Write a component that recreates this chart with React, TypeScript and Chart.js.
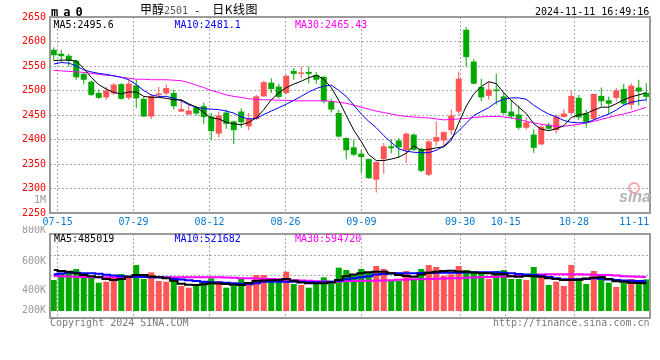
import React, { useEffect, useRef } from 'react';
import { Chart, registerables } from 'chart.js';

Chart.register(...registerables);

// ---------------- data ----------------
const dates = [
  '07-12', '07-15', '07-16', '07-17', '07-18', '07-19', '07-22', '07-23', '07-24', '07-25', '07-26', '07-29', '07-30', '07-31',
  '08-01', '08-02', '08-05', '08-06', '08-07', '08-08', '08-09', '08-12', '08-13', '08-14', '08-15', '08-16', '08-19', '08-20',
  '08-21', '08-22', '08-23', '08-26', '08-27', '08-28', '08-29', '08-30',
  '09-02', '09-03', '09-04', '09-05', '09-06', '09-09', '09-10', '09-11', '09-12', '09-13', '09-18', '09-19', '09-20', '09-23',
  '09-24', '09-25', '09-26', '09-27', '09-30',
  '10-08', '10-09', '10-10', '10-11', '10-14', '10-15', '10-16', '10-17', '10-18', '10-21', '10-22', '10-23', '10-24', '10-25',
  '10-28', '10-29', '10-30', '10-31',
  '11-01', '11-04', '11-05', '11-06', '11-07', '11-08', '11-11',
];

const opens = [
  2583, 2575, 2571, 2561, 2534, 2518, 2495, 2486, 2494, 2513,
  2485, 2510, 2483, 2447, 2491, 2494, 2495, 2457, 2451, 2466,
  2468, 2447, 2412, 2455, 2437, 2457, 2427, 2442, 2488, 2516,
  2508, 2495, 2540, 2534, 2538, 2532, 2528, 2478, 2454, 2403,
  2384, 2371, 2360, 2318, 2360, 2386, 2398, 2378, 2410, 2381,
  2328, 2396, 2398, 2419, 2457, 2624, 2559, 2507, 2489, 2502,
  2488, 2457, 2451, 2424, 2410, 2390, 2430, 2419, 2446, 2454,
  2485, 2453, 2442, 2489, 2480, 2485, 2503, 2471, 2506, 2495,
];
const highs = [
  2588, 2583, 2575, 2563, 2537, 2520, 2502, 2507, 2515, 2515,
  2522, 2522, 2488, 2493, 2507, 2512, 2502, 2481, 2471, 2469,
  2475, 2454, 2457, 2461, 2439, 2464, 2454, 2491, 2520, 2525,
  2514, 2532, 2546, 2549, 2549, 2538, 2529, 2483, 2461, 2404,
  2400, 2379, 2361, 2355, 2393, 2400, 2403, 2414, 2412, 2383,
  2400, 2437, 2417, 2461, 2539, 2629, 2564, 2524, 2518, 2534,
  2496, 2481, 2469, 2445, 2421, 2430, 2434, 2451, 2461, 2500,
  2491, 2461, 2494, 2506, 2488, 2505, 2514, 2515, 2522, 2515,
];
const lows = [
  2561, 2557, 2549, 2522, 2513, 2489, 2483, 2481, 2491, 2481,
  2481, 2464, 2446, 2442, 2488, 2491, 2461, 2456, 2450, 2449,
  2432, 2398, 2404, 2422, 2391, 2424, 2419, 2440, 2487, 2495,
  2483, 2493, 2522, 2525, 2515, 2514, 2474, 2455, 2404, 2359,
  2366, 2332, 2320, 2292, 2330, 2372, 2362, 2352, 2377, 2333,
  2325, 2387, 2385, 2410, 2451, 2549, 2512, 2478, 2481, 2471,
  2451, 2442, 2420, 2420, 2373, 2389, 2420, 2412, 2445, 2451,
  2440, 2424, 2440, 2468, 2451, 2478, 2469, 2461, 2469, 2478,
];
const closes = [
  2572, 2570, 2561, 2527, 2522, 2491, 2485, 2500, 2512, 2483,
  2514, 2484, 2447, 2489, 2494, 2505, 2468, 2462, 2459, 2453,
  2446, 2417, 2449, 2432, 2419, 2435, 2442, 2488, 2517, 2503,
  2487, 2530, 2534, 2537, 2534, 2522, 2478, 2461, 2406, 2378,
  2369, 2364, 2321, 2354, 2386, 2382, 2384, 2412, 2379, 2336,
  2396, 2405, 2415, 2449, 2524, 2568, 2514, 2486, 2502, 2499,
  2454, 2447, 2424, 2435, 2383, 2426, 2422, 2447, 2453, 2489,
  2445, 2435, 2493, 2478, 2473, 2500, 2473, 2510, 2498, 2487,
];

const volumes = [
  542000, 670000, 688000, 735000, 589000, 589000, 496000, 513000, 589000, 648000,
  613000, 805000, 560000, 677000, 525000, 513000, 554000, 438000, 408000, 473000,
  525000, 572000, 525000, 408000, 438000, 572000, 455000, 630000, 630000, 531000,
  525000, 688000, 473000, 455000, 408000, 484000, 589000, 485000, 758000, 718000,
  648000, 735000, 677000, 788000, 735000, 531000, 531000, 700000, 554000, 735000,
  805000, 770000, 618000, 642000, 788000, 718000, 677000, 659000, 560000, 700000,
  718000, 560000, 560000, 542000, 770000, 613000, 455000, 513000, 438000, 805000,
  572000, 473000, 700000, 613000, 496000, 420000, 496000, 560000, 473000, 554000,
];

const ma5 = [
  2561, 2562, 2562, 2560, 2545, 2527, 2512, 2503, 2496, 2493,
  2497, 2497, 2488, 2486, 2486, 2484, 2481, 2481, 2473, 2466,
  2455, 2444, 2442, 2435, 2432, 2430, 2435, 2444, 2461, 2481,
  2495, 2506, 2513, 2519, 2526, 2531, 2523, 2506, 2480, 2449,
  2419, 2396, 2369, 2357, 2357, 2360, 2364, 2372, 2387, 2378,
  2380, 2383, 2385, 2398, 2434, 2468, 2493, 2508, 2518, 2514,
  2495, 2480, 2466, 2453, 2432, 2421, 2418, 2422, 2428, 2445,
  2450, 2453, 2460, 2466, 2466, 2473, 2481, 2487, 2491, 2495.6,
];
const ma10 = [
  2554, 2557, 2556, 2550, 2542, 2538, 2535, 2533, 2530, 2527,
  2522, 2512, 2500, 2491, 2488, 2488, 2484, 2479, 2471, 2466,
  2463, 2462, 2461, 2458, 2454, 2446, 2442, 2443, 2451, 2458,
  2465, 2472, 2480, 2488, 2497, 2504, 2509, 2511, 2500, 2488,
  2470, 2452, 2437, 2424, 2408, 2394, 2381, 2376, 2374, 2373,
  2373, 2378, 2386, 2403, 2418, 2433, 2449, 2457, 2465, 2476,
  2482, 2485, 2485, 2482, 2470, 2460, 2452, 2446, 2439, 2435,
  2434, 2434, 2440, 2446, 2452, 2460, 2470, 2476, 2479, 2481.1,
];
const ma30 = [
  2541, 2540, 2539, 2538, 2537, 2535, 2533, 2531, 2530, 2527,
  2525, 2523, 2523, 2522, 2522, 2522, 2521, 2520, 2516, 2511,
  2506, 2500, 2496, 2491, 2488, 2486, 2483, 2482, 2481, 2481,
  2480, 2480, 2479, 2479, 2479, 2479, 2479, 2478, 2476, 2474,
  2470, 2466, 2462, 2458, 2455, 2452, 2449, 2447, 2446, 2445,
  2444, 2442, 2440, 2441, 2442, 2443, 2445, 2446, 2447, 2447,
  2446, 2444, 2441, 2437, 2434, 2431, 2429, 2427, 2427, 2429,
  2431, 2434, 2437, 2441, 2445, 2449, 2452, 2456, 2461, 2465.43,
];

const volMa5 = [
  717000, 700000, 688000, 660000, 630000, 610000, 589000, 560000, 542000, 560000,
  600000, 630000, 630000, 605000, 590000, 572000, 530000, 475000, 460000, 455000,
  470000, 485000, 480000, 473000, 460000, 455000, 490000, 525000, 535000, 540000,
  542000, 560000, 530000, 500000, 485000, 485000, 485000, 500000, 542000, 610000,
  640000, 659000, 680000, 688000, 688000, 660000, 630000, 613000, 600000, 640000,
  670000, 688000, 700000, 705000, 690000, 688000, 675000, 665000, 659000, 645000,
  642000, 610000, 600000, 613000, 610000, 600000, 575000, 560000, 542000, 542000,
  545000, 570000, 580000, 589000, 560000, 520000, 510000, 496000, 490000, 485019,
];
const volMa10 = [
  642000, 655000, 670000, 668000, 662000, 659000, 650000, 635000, 620000, 610000,
  600000, 600000, 596000, 592000, 589000, 580000, 560000, 550000, 540000, 525000,
  513000, 505000, 498000, 494000, 485000, 478000, 467000, 485000, 513000, 513000,
  513000, 513000, 513000, 510000, 505000, 502000, 505000, 513000, 530000, 554000,
  572000, 589000, 610000, 640000, 648000, 655000, 659000, 659000, 659000, 665000,
  670000, 670000, 670000, 670000, 670000, 672000, 677000, 677000, 677000, 677000,
  670000, 660000, 648000, 640000, 630000, 615000, 595000, 575000, 554000, 554000,
  554000, 560000, 572000, 565000, 550000, 542000, 535000, 531000, 527000, 521682,
];
const volMa30 = [
  613000, 610000, 605000, 600000, 595000, 590000, 589000, 589000, 590000, 595000,
  600000, 600000, 598000, 595000, 592000, 589000, 589000, 589000, 589000, 589000,
  589000, 589000, 589000, 586000, 580000, 575000, 572000, 570000, 565000, 560000,
  555000, 545000, 540000, 535000, 528000, 522000, 515000, 513000, 518000, 525000,
  526000, 528000, 530000, 531000, 533000, 538000, 545000, 550000, 554000, 557000,
  560000, 565000, 570000, 572000, 575000, 580000, 585000, 590000, 595000, 600000,
  605000, 610000, 613000, 620000, 630000, 638000, 642000, 642000, 642000, 642000,
  642000, 640000, 635000, 630000, 628000, 620000, 610000, 603000, 598000, 594720,
];

const priceTicks = [2250, 2300, 2350, 2400, 2450, 2500, 2550, 2600, 2650];
const dateTicks = ['07-15', '07-29', '08-12', '08-26', '09-09', '09-30', '10-15', '10-28', '11-11'];
const volTickLabels = ['1M', '800K', '600K', '400K', '200K'];
const titleName = '甲醇';
const titleCode = '2501';
const titleKind = '日K线图';
const timestamp = '2024-11-11 16:49:16';

// ---------------- styling ----------------
const RED = '#ff5555';
const GREEN = '#00a800';
const GRID = '#aaaaaa';
const BOX = '#9a9a9a';
const RED_TXT = '#ff0000';
const GREY_TXT = '#9a9a9a';
const BLUE_TXT = '#0a78d2';
const MONO = "'DejaVu Sans Mono', 'Liberation Mono', monospace";

const X_MIN = -0.5;
const X_MAX = dates.length - 0.5;

const candleColor = (i: number) => (closes[i] >= opens[i] ? RED : GREEN);

// Sina spaces its date grid over (n-1) steps while candles use n slots.
const dateItems = dateTicks.map((d, k) => {
  const n = dates.length;
  const idx = dates.indexOf(d);
  const last = k === dateTicks.length - 1;
  return { value: last ? X_MAX - 2.1 : (idx * n) / (n - 1) - 0.5, label: d, grid: !last };
});

const boxPlugin = {
  id: 'box',
  afterDraw(chart: any) {
    const { ctx, chartArea: a } = chart;
    ctx.save();
    ctx.strokeStyle = BOX;
    ctx.lineWidth = 2;
    ctx.strokeRect(a.left, a.top, a.right - a.left, a.bottom - a.top);
    ctx.restore();
  },
};

function xAxis(showLabels: boolean, height: number) {
  return {
    type: 'linear',
    min: X_MIN,
    max: X_MAX,
    offset: false,
    afterBuildTicks: (s: any) => {
      s.ticks = dateItems.map((t) => ({ value: t.value }));
    },
    afterFit: (s: any) => {
      s.height = height;
      s.paddingLeft = 0;
      s.paddingRight = 0;
    },
    ticks: {
      display: showLabels,
      autoSkip: false,
      maxRotation: 0,
      minRotation: 0,
      padding: 3,
      color: BLUE_TXT,
      font: { family: MONO, size: 10 },
      callback: (_v: any, i: number) => dateItems[i].label,
    },
    grid: {
      offset: false,
      color: (c: any) => (dateItems[c.index] && dateItems[c.index].grid ? GRID : 'rgba(0,0,0,0)'),
      drawTicks: false,
      lineWidth: 1,
    },
    border: { display: false, dash: [2, 2] },
  };
}

// price panel: chart area y 17..213, volume "1M" label spills into it near 2275
const ONE_M_AT_PRICE = 2275;
const priceAxisItems = [
  ...priceTicks.map((v, k) => ({ value: v, label: String(v), color: RED_TXT, grid: k > 0 && k < priceTicks.length - 1 })),
  { value: ONE_M_AT_PRICE, label: volTickLabels[0], color: GREY_TXT, grid: false },
];

// volume panel (canvas top = 226): chart area y 8..92, zero volume at y 85
const VOL_PER_PX = 17500;
const VOL_ZERO_Y = 85;
const VOL_MAX = (VOL_ZERO_Y - 8) * VOL_PER_PX;
const VOL_MIN = -(92 - VOL_ZERO_Y) * VOL_PER_PX;
const volAt = (y: number) => (VOL_ZERO_Y - y) * VOL_PER_PX;
const volAxisItems = [
  { value: VOL_MAX, label: [volTickLabels[1], ''], grid: false },
  { value: volAt(29.7), label: '', grid: true },
  { value: volAt(35), label: volTickLabels[2], grid: false },
  { value: volAt(49.7), label: '', grid: true },
  { value: volAt(64), label: volTickLabels[3], grid: false },
  { value: volAt(69.7), label: '', grid: true },
  { value: volAt(84), label: volTickLabels[4], grid: false },
];

function priceConfig(): any {
  const pts = (arr: number[]) => arr.map((v, i) => ({ x: i, y: v }));
  return {
    type: 'bar',
    data: {
      datasets: [
        { type: 'line', data: pts(ma5), borderColor: '#000000', borderWidth: 1, pointRadius: 0, order: 0 },
        { type: 'line', data: pts(ma10), borderColor: '#0000ff', borderWidth: 1, pointRadius: 0, order: 0 },
        { type: 'line', data: pts(ma30), borderColor: '#ff00ff', borderWidth: 1, pointRadius: 0, order: 0 },
        {
          type: 'bar',
          data: highs.map((h, i) => ({ x: i, y: [lows[i], h] })),
          backgroundColor: (c: any) => candleColor(c.dataIndex),
          barThickness: 1,
          grouped: false,
          inflateAmount: 0,
          order: 2,
        },
        {
          type: 'bar',
          data: opens.map((o, i) => ({ x: i, y: [o, closes[i]] })),
          backgroundColor: (c: any) => candleColor(c.dataIndex),
          barThickness: 6,
          grouped: false,
          inflateAmount: 0,
          order: 1,
        },
      ],
    },
    options: {
      responsive: false,
      maintainAspectRatio: false,
      animation: false,
      devicePixelRatio: 1,
      events: [],
      layout: { padding: { left: 0, right: 10, top: 17, bottom: 0 } },
      plugins: { legend: { display: false }, tooltip: { enabled: false } },
      scales: {
        x: xAxis(true, 23),
        y: {
          type: 'linear',
          min: priceTicks[0],
          max: priceTicks[priceTicks.length - 1],
          afterBuildTicks: (s: any) => {
            s.ticks = priceAxisItems.map((t) => ({ value: t.value }));
          },
          afterFit: (s: any) => {
            s.width = 50;
            s.paddingTop = 0;
            s.paddingBottom = 0;
          },
          ticks: {
            autoSkip: false,
            padding: 4,
            font: { family: MONO, size: 10 },
            color: (c: any) => (priceAxisItems[c.index] ? priceAxisItems[c.index].color : RED_TXT),
            callback: (_v: any, i: number) => priceAxisItems[i].label,
          },
          grid: {
            color: (c: any) => (priceAxisItems[c.index] && priceAxisItems[c.index].grid ? GRID : 'rgba(0,0,0,0)'),
            drawTicks: false,
          },
          border: { display: false, dash: [2, 2] },
        },
      },
    },
    plugins: [boxPlugin],
  };
}

function volumeConfig(): any {
  const pts = (arr: number[]) => arr.map((v, i) => ({ x: i, y: v }));
  const line = (arr: number[], color: string) => ({
    type: 'line',
    data: pts(arr),
    borderColor: color,
    borderWidth: 2,
    pointRadius: 0,
    stepped: 'middle',
    order: 0,
  });
  return {
    type: 'bar',
    data: {
      datasets: [
        line(volMa5, '#000000'),
        line(volMa10, '#0000ff'),
        line(volMa30, '#ff00ff'),
        {
          type: 'bar',
          data: pts(volumes),
          backgroundColor: (c: any) => candleColor(c.dataIndex),
          barThickness: 6,
          inflateAmount: 0,
          order: 1,
        },
      ],
    },
    options: {
      responsive: false,
      maintainAspectRatio: false,
      animation: false,
      devicePixelRatio: 1,
      events: [],
      layout: { padding: { left: 0, right: 10, top: 8, bottom: 0 } },
      plugins: { legend: { display: false }, tooltip: { enabled: false } },
      scales: {
        x: xAxis(false, 42),
        y: {
          type: 'linear',
          min: VOL_MIN,
          max: VOL_MAX,
          afterBuildTicks: (s: any) => {
            s.ticks = volAxisItems.map((t) => ({ value: t.value }));
          },
          afterFit: (s: any) => {
            s.width = 50;
            s.paddingTop = 0;
            s.paddingBottom = 0;
          },
          ticks: {
            autoSkip: false,
            padding: 4,
            color: GREY_TXT,
            font: { family: MONO, size: 10, lineHeight: '7px' },
            callback: (_v: any, i: number) => volAxisItems[i].label,
          },
          grid: {
            color: (c: any) => (volAxisItems[c.index] && volAxisItems[c.index].grid ? GRID : 'rgba(0,0,0,0)'),
            drawTicks: false,
          },
          border: { display: false, dash: [2, 2] },
        },
      },
    },
    plugins: [boxPlugin],
  };
}

const txt = (left: number, top: number, color: string, extra: any = {}): any => ({
  position: 'absolute',
  left,
  top,
  color,
  fontFamily: MONO,
  fontSize: 10,
  lineHeight: '10px',
  whiteSpace: 'pre',
  ...extra,
});

const last = (a: number[]) => a[a.length - 1];

export default function App() {
  const priceRef = useRef<HTMLCanvasElement>(null);
  const volRef = useRef<HTMLCanvasElement>(null);

  useEffect(() => {
    const pc = new Chart(priceRef.current as HTMLCanvasElement, priceConfig());
    const vc = new Chart(volRef.current as HTMLCanvasElement, volumeConfig());
    return () => {
      pc.destroy();
      vc.destroy();
    };
  }, []);

  return (
    <div style={{ position: 'absolute', left: 0, top: 0, width: 660, height: 360, background: '#ffffff', overflow: 'hidden' }}>
      <canvas ref={priceRef} width={660} height={236} style={{ position: 'absolute', left: 0, top: 0, width: 660, height: 236 }} />
      <canvas ref={volRef} width={660} height={134} style={{ position: 'absolute', left: 0, top: 226, width: 660, height: 134 }} />

      <div style={txt(51, 5.6, '#000', { fontSize: 12, lineHeight: '12px', fontWeight: 'bold', letterSpacing: '5px' })}>ma0</div>
      <div style={{ position: 'absolute', left: 140, top: 2, whiteSpace: 'pre', lineHeight: '14px', color: '#000' }}>
        <span style={{ fontFamily: "'Noto Sans CJK SC', sans-serif", fontSize: 12 }}>{titleName}</span>
        <span style={{ fontFamily: MONO, fontSize: 10, color: '#555' }}>{titleCode}</span>
        <span style={{ fontFamily: MONO, fontSize: 10 }}>{' -  '}</span>
        <span style={{ fontFamily: "'Noto Sans CJK SC', sans-serif", fontSize: 12, letterSpacing: '0.5px' }}>{titleKind}</span>
      </div>
      <div style={txt(535, 7.2, '#000')}>{timestamp}</div>

      <div style={txt(53.5, 19.8, '#000000')}>{`MA5:${last(ma5)}`}</div>
      <div style={txt(174.5, 19.8, '#0000ff')}>{`MA10:${last(ma10)}`}</div>
      <div style={txt(295, 19.8, '#ff00ff')}>{`MA30:${last(ma30)}`}</div>

      <div style={txt(54, 233.9, '#000000')}>{`MA5:${last(volMa5)}`}</div>
      <div style={txt(174.5, 233.9, '#0000ff')}>{`MA10:${last(volMa10)}`}</div>
      <div style={txt(295, 233.9, '#ff00ff')}>{`MA30:${last(volMa30)}`}</div>

      <div style={txt(50, 318.2, '#7a7a7a')}>Copyright 2024 SINA.COM</div>
      <div style={txt(493, 318.2, '#7a7a7a')}>http://finance.sina.com.cn</div>

      <div
        style={{
          position: 'absolute',
          left: 628,
          top: 182,
          width: 8,
          height: 8,
          borderRadius: '50%',
          border: '2px solid #f4a7a7',
        }}
      />
      <div
        style={{
          position: 'absolute',
          left: 619,
          top: 188,
          fontFamily: "'Liberation Sans', Arial, sans-serif",
          fontSize: 16,
          lineHeight: '18px',
          fontWeight: 'bold',
          fontStyle: 'italic',
          color: '#b4b4b4',
        }}
      >
        sina
      </div>
    </div>
  );
}
